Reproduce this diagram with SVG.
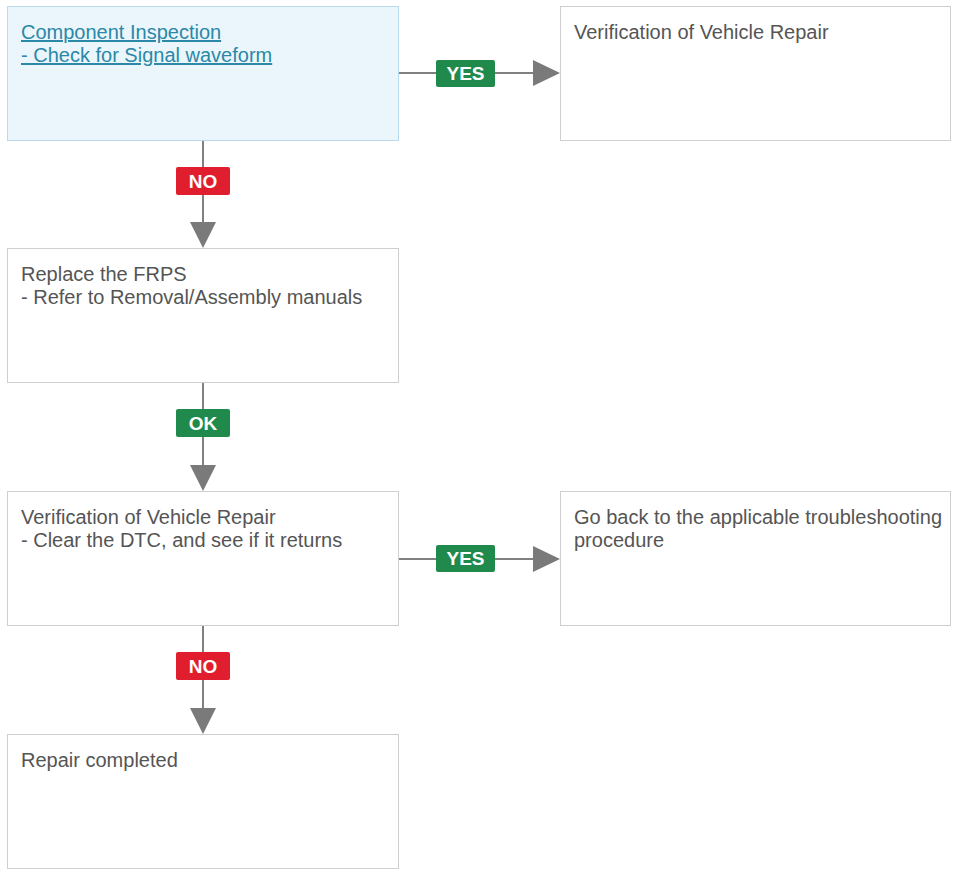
<svg xmlns="http://www.w3.org/2000/svg" width="955" height="875" viewBox="0 0 955 875">
<style>
.box{fill:#ffffff;stroke:#cfcfcf;stroke-width:1}
.hl{fill:#eaf6fb;stroke:#b9dbef;stroke-width:1}
.t{font-family:"Liberation Sans",Arial,sans-serif;font-size:20px;fill:#555555}
.lk{font-family:"Liberation Sans",Arial,sans-serif;font-size:20px;fill:#2b88a8;text-decoration:underline}
.ln{stroke:#808080;stroke-width:2;fill:none}
.ah{fill:#7a7a7a}
.yes{fill:#1f8a4c}
.no{fill:#e01e2d}
.lb{font-family:"Liberation Sans",Arial,sans-serif;font-size:19px;font-weight:bold;fill:#ffffff;text-anchor:middle}
</style>
<rect width="955" height="875" fill="#ffffff"/>
<g id="connectors">
  <g id="c1">
    <line class="ln" x1="398" y1="73" x2="535" y2="73"/>
    <polygon class="ah" points="533,60 560,73 533,86"/>
    <rect class="yes" x="436" y="60" width="59" height="27" rx="2"/>
    <text class="lb" x="465.5" y="80">YES</text>
  </g>
  <g id="c2">
    <line class="ln" x1="203" y1="140" x2="203" y2="224"/>
    <polygon class="ah" points="190,222 216,222 203,248"/>
    <rect class="no" x="176" y="167" width="54" height="28" rx="2"/>
    <text class="lb" x="203" y="188">NO</text>
  </g>
  <g id="c3">
    <line class="ln" x1="203" y1="383" x2="203" y2="467"/>
    <polygon class="ah" points="190,465 216,465 203,491"/>
    <rect class="yes" x="176" y="409" width="54" height="28" rx="2"/>
    <text class="lb" x="203" y="430">OK</text>
  </g>
  <g id="c4">
    <line class="ln" x1="398" y1="559" x2="535" y2="559"/>
    <polygon class="ah" points="533,546 560,559 533,572"/>
    <rect class="yes" x="436" y="545" width="59" height="27" rx="2"/>
    <text class="lb" x="465.5" y="565">YES</text>
  </g>
  <g id="c5">
    <line class="ln" x1="203" y1="626" x2="203" y2="710"/>
    <polygon class="ah" points="190,708 216,708 203,734"/>
    <rect class="no" x="176" y="652" width="54" height="28" rx="2"/>
    <text class="lb" x="203" y="673">NO</text>
  </g>
</g>
<g id="n1">
  <rect class="hl" x="7.5" y="6.5" width="391" height="134"/>
  <text class="lk" x="21" y="39">Component Inspection</text>
  <text class="lk" x="21" y="62">- Check for Signal waveform</text>
</g>
<g id="n2">
  <rect class="box" x="560.5" y="6.5" width="390" height="134"/>
  <text class="t" x="574" y="39">Verification of Vehicle Repair</text>
</g>
<g id="n3">
  <rect class="box" x="7.5" y="248.5" width="391" height="134"/>
  <text class="t" x="21" y="281">Replace the FRPS</text>
  <text class="t" x="21" y="304">- Refer to Removal/Assembly manuals</text>
</g>
<g id="n4">
  <rect class="box" x="7.5" y="491.5" width="391" height="134"/>
  <text class="t" x="21" y="524">Verification of Vehicle Repair</text>
  <text class="t" x="21" y="547">- Clear the DTC, and see if it returns</text>
</g>
<g id="n5">
  <rect class="box" x="560.5" y="491.5" width="390" height="134"/>
  <text class="t" x="574" y="524">Go back to the applicable troubleshooting</text>
  <text class="t" x="574" y="547">procedure</text>
</g>
<g id="n6">
  <rect class="box" x="7.5" y="734.5" width="391" height="134"/>
  <text class="t" x="21" y="767">Repair completed</text>
</g>
</svg>
